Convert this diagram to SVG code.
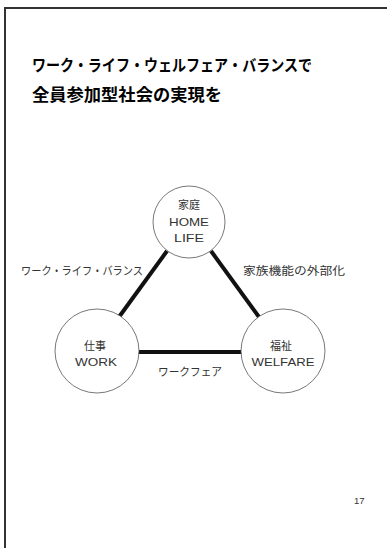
<svg xmlns="http://www.w3.org/2000/svg" width="387" height="548" viewBox="0 0 387 548">
<style>
text{font-family:"Liberation Sans","Noto Sans CJK JP",sans-serif;fill:#333}
.title{font-weight:bold;fill:#000;font-size:16px}
.node circle{fill:#fff;stroke:#555;stroke-width:0.8}
.nl{font-size:11.5px;text-anchor:middle}
.el{font-size:11.5px}
.conn line{stroke:#111;stroke-width:4}
</style>
<rect x="0" y="0" width="387" height="548" fill="#fff"/>
<rect x="5" y="8" width="420" height="580" fill="none" stroke="#333" stroke-width="2"/>
<text class="title" x="32" y="71" textLength="280" lengthAdjust="spacingAndGlyphs">ワーク・ライフ・ウェルフェア・バランスで</text>
<text class="title" x="32" y="101" font-size="17" textLength="190" lengthAdjust="spacingAndGlyphs" style="font-size:17px">全員参加型社会の実現を</text>
<g class="conn">
<line x1="167" y1="251" x2="119" y2="317"/>
<line x1="211" y1="251" x2="259" y2="317"/>
<line x1="138" y1="352" x2="242" y2="352"/>
</g>
<g id="home" class="node">
<circle cx="189" cy="222" r="36"/>
<text class="nl" x="189" y="209" textLength="22" lengthAdjust="spacingAndGlyphs">家庭</text>
<text class="nl" x="189" y="226" textLength="40" lengthAdjust="spacingAndGlyphs">HOME</text>
<text class="nl" x="189" y="242" textLength="30" lengthAdjust="spacingAndGlyphs">LIFE</text>
</g>
<g id="work" class="node">
<circle cx="97" cy="351" r="42"/>
<text class="nl" x="95" y="350" textLength="22" lengthAdjust="spacingAndGlyphs">仕事</text>
<text class="nl" x="96" y="366" textLength="42" lengthAdjust="spacingAndGlyphs">WORK</text>
</g>
<g id="welfare" class="node">
<circle cx="283" cy="351" r="42"/>
<text class="nl" x="281" y="350" textLength="22" lengthAdjust="spacingAndGlyphs">福祉</text>
<text class="nl" x="283" y="366" textLength="63" lengthAdjust="spacingAndGlyphs">WELFARE</text>
</g>
<text class="el" x="21" y="275" textLength="122" lengthAdjust="spacingAndGlyphs">ワーク・ライフ・バランス</text>
<text class="el" x="243" y="275" textLength="102" lengthAdjust="spacingAndGlyphs">家族機能の外部化</text>
<text class="el" x="158" y="376" textLength="64" lengthAdjust="spacingAndGlyphs">ワークフェア</text>
<text x="354" y="504" style="font-size:9.5px">17</text>
</svg>
